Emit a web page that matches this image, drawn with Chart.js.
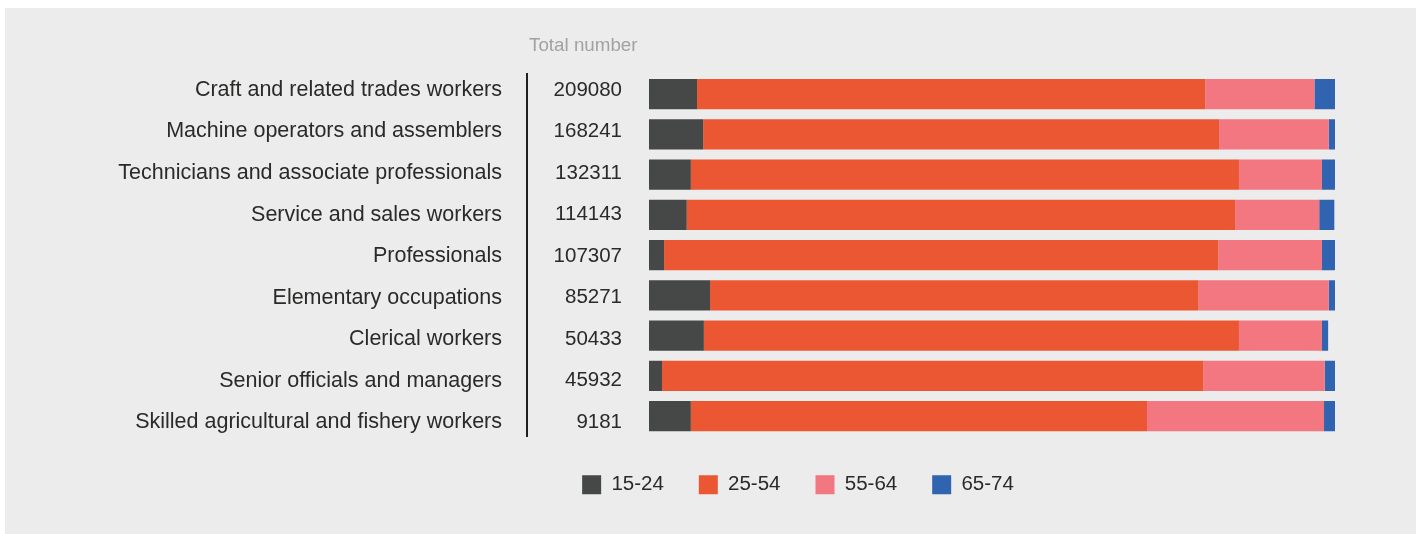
<!DOCTYPE html>
<html>
<head>
<meta charset="utf-8">
<script src="https://cdn.jsdelivr.net/npm/chart.js@4/dist/chart.umd.min.js"></script>
<style>
    html, body { margin: 0; padding: 0; background: #ffffff; }
    #panel { position: absolute; left: 5px; top: 8px; right: 0; bottom: 0; background: #ececec; }
    #ageChart { position: absolute; left: 0; top: 0; }
</style>
</head>
<body>
<div id="panel"></div>
<canvas id="ageChart" width="1416" height="534"></canvas>
<script>
// Employed persons by occupation and age group (share of total, %)
const occupations = [
    "Craft and related trades workers",
    "Machine operators and assemblers",
    "Technicians and associate professionals",
    "Service and sales workers",
    "Professionals",
    "Elementary occupations",
    "Clerical workers",
    "Senior officials and managers",
    "Skilled agricultural and fishery workers"
];
const totals = [209080, 168241, 132311, 114143, 107307, 85271, 50433, 45932, 9181];

const age15to24 = [7.0, 7.9, 6.1, 5.5, 2.2, 8.9, 8.0, 1.9, 6.1];
const age25to54 = [74.1, 75.2, 79.9, 80.0, 80.8, 71.2, 78.0, 78.9, 66.5];
const age55to64 = [15.9, 16.0, 12.1, 12.2, 15.1, 19.0, 12.1, 17.7, 25.8];
const age65to74 = [3.0, 0.9, 1.9, 2.2, 1.9, 0.9, 0.9, 1.5, 1.6];

const textColor = "#2b2a29";
const fontFamily = "'Liberation Sans', Arial, Helvetica, sans-serif";

// text columns: one tick per row, spread a little wider than the bars
function rowColumn(texts, width, padding, size, extra) {
    return Object.assign({
        type: "linear",
        position: "left",
        reverse: true,
        offset: false,   // bar charts turn offset on for index axes
        bounds: "data",
        min: -0.384,
        max: texts.length - 1 + 0.336,
        grid: { display: false, drawTicks: false },
        border: { display: false },
        afterBuildTicks: scale => {
            scale.ticks = texts.map((_, i) => ({ value: i }));
        },
        ticks: {
            autoSkip: false,
            padding: padding,
            color: textColor,
            font: { family: fontFamily, size: size },
            callback: value => String(texts[value])
        },
        afterFit: scale => { scale.width = width; }
    }, extra);
}

// header above the totals column, and legend centred under the table block
const tableExtras = {
    id: "tableExtras",
    afterLayout(chart) {
        const legend = chart.legend;
        legend.left = 261;
        legend.right = chart.chartArea.right;
    },
    afterDraw(chart) {
        const axis = chart.scales.totals;
        const ctx = chart.ctx;
        ctx.save();
        ctx.font = "18.8px " + fontFamily;
        ctx.fillStyle = "#a2a2a2";
        ctx.textAlign = "left";
        ctx.textBaseline = "middle";
        ctx.fillText("Total number", axis.left + 2, chart.chartArea.top - 28);
        ctx.restore();
    }
};

const ctx = document.getElementById("ageChart").getContext("2d");

new Chart(ctx, {
    type: "bar",
    data: {
        labels: occupations,
        datasets: [
            { label: "15-24", data: age15to24, backgroundColor: "#464847" },
            { label: "25-54", data: age25to54, backgroundColor: "#eb5733" },
            { label: "55-64", data: age55to64, backgroundColor: "#f27781" },
            { label: "65-74", data: age65to74, backgroundColor: "#3063b0" }
        ]
    },
    options: {
        indexAxis: "y",
        responsive: false,
        animation: false,
        datasets: {
            bar: { barPercentage: 1, categoryPercentage: 0.75, borderWidth: 0 }
        },
        layout: {
            padding: { left: 0, right: 81, top: 74, bottom: 29 }
        },
        plugins: {
            tooltip: { enabled: false },
            legend: {
                position: "bottom",
                labels: {
                    boxWidth: 19,
                    boxHeight: 19,
                    padding: 35,
                    color: textColor,
                    font: { family: fontFamily, size: 20.5 }
                }
            }
        },
        scales: {
            x: {
                stacked: true,
                min: 0,
                max: 100,
                ticks: { display: false },
                grid: { display: false, drawTicks: false },
                border: { display: false },
                afterFit: scale => { scale.height = 3.25; }
            },
            y: {
                stacked: true,
                display: false,
                offset: true
            },
            names: rowColumn(occupations, 527, 25, 21.5, {
                weight: 1,
                border: { display: true, color: "#231f20", width: 2 }
            }),
            totals: rowColumn(totals, 122, 27, 20.5, { weight: 0 })
        }
    },
    plugins: [tableExtras]
});
</script>
</body>
</html>
